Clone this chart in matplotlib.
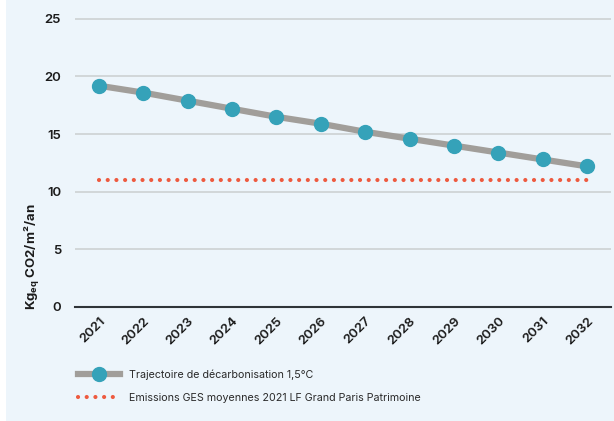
import matplotlib
matplotlib.use("Agg")
import matplotlib.pyplot as plt
from matplotlib.lines import Line2D
from matplotlib.patches import Rectangle

plt.rcParams['font.family'] = ['Inter', 'DejaVu Sans']
plt.rcParams['mathtext.fontset'] = 'custom'
plt.rcParams['mathtext.rm'] = 'Inter'
plt.rcParams['mathtext.bf'] = 'Inter:bold'
plt.rcParams['mathtext.default'] = 'bf'

years = ['2021', '2022', '2023', '2024', '2025', '2026',
         '2027', '2028', '2029', '2030', '2031', '2032']
trajectoire = [19.2, 18.6, 17.9, 17.2, 16.5, 15.9, 15.2, 14.6, 14.0, 13.4, 12.8, 12.2]
emissions_2021 = [11.0] * len(years)

label_traj = "Trajectoire de décarbonisation 1,5°C"
label_ges = "Emissions GES moyennes 2021 LF Grand Paris Patrimoine"

bg = '#edf5fb'
grey = '#a19e9a'
teal = '#35a2b9'
red = '#ee5a3f'
dots = (0, (0.01, 2.078))

fig = plt.figure(figsize=(6.14, 4.21), dpi=100, facecolor=bg)
# white strip on the left edge
fig.patches.append(Rectangle((0, 0), 6 / 614, 1, transform=fig.transFigure,
                             facecolor='white', edgecolor='none', zorder=-1))
ax = fig.add_axes([75 / 614, 1 - 306.9 / 421, 536 / 614, 306.9 / 421])
ax.set_facecolor(bg)

x = list(range(len(years)))
ax.plot(x, emissions_2021, color=red, lw=3, linestyle=dots,
        dash_capstyle='round', zorder=2)
ax.plot(x, trajectoire, color=grey, lw=4.5, marker='o', markersize=10,
        markerfacecolor=teal, markeredgecolor=teal, solid_capstyle='butt', zorder=3)

ax.set_xlim(-0.54, 11.54)
ax.set_ylim(0, 26.64)
ax.set_yticks([0, 5, 10, 15, 20, 25])
ax.set_xticks(x)
ax.set_xticklabels(years, rotation=45, ha='right', va='top', rotation_mode='anchor')

ax.grid(axis='y', color='#cdd1d3', lw=1.2)
ax.set_axisbelow(True)
for s in ['top', 'right', 'left']:
    ax.spines[s].set_visible(False)
ax.spines['bottom'].set_color('#2f3438')
ax.spines['bottom'].set_linewidth(1.5)
ax.spines['bottom'].set_zorder(1)
ax.tick_params(axis='both', length=0, labelsize=9.5, labelcolor='#1b1b1b')
ax.tick_params(axis='y', pad=10)
ax.tick_params(axis='x', pad=6)
for t in ax.get_xticklabels() + ax.get_yticklabels():
    t.set_fontweight('semibold')

fig.text(33 / 614, 1 - 257 / 421, r"Kg$_{eq}$ CO2/m²/an", rotation=90,
         ha='center', va='center', fontsize=9.5, fontweight='bold', color='#1b1b1b')

handles = [
    Line2D([], [], color=grey, lw=4.5, marker='o', markersize=10,
           markerfacecolor=teal, markeredgecolor=teal),
    Line2D([], [], color=red, lw=3, linestyle=dots, dash_capstyle='round'),
]
fig.legend(handles, [label_traj, label_ges], loc='upper left',
           bbox_to_anchor=(73 / 614, 1 - 364 / 421), frameon=False, fontsize=7.7,
           handlelength=3.9, handletextpad=0.8, labelspacing=1.2, borderpad=0,
           labelcolor='#2a2a2a')

fig.savefig('out.png', dpi=100, facecolor=bg)
